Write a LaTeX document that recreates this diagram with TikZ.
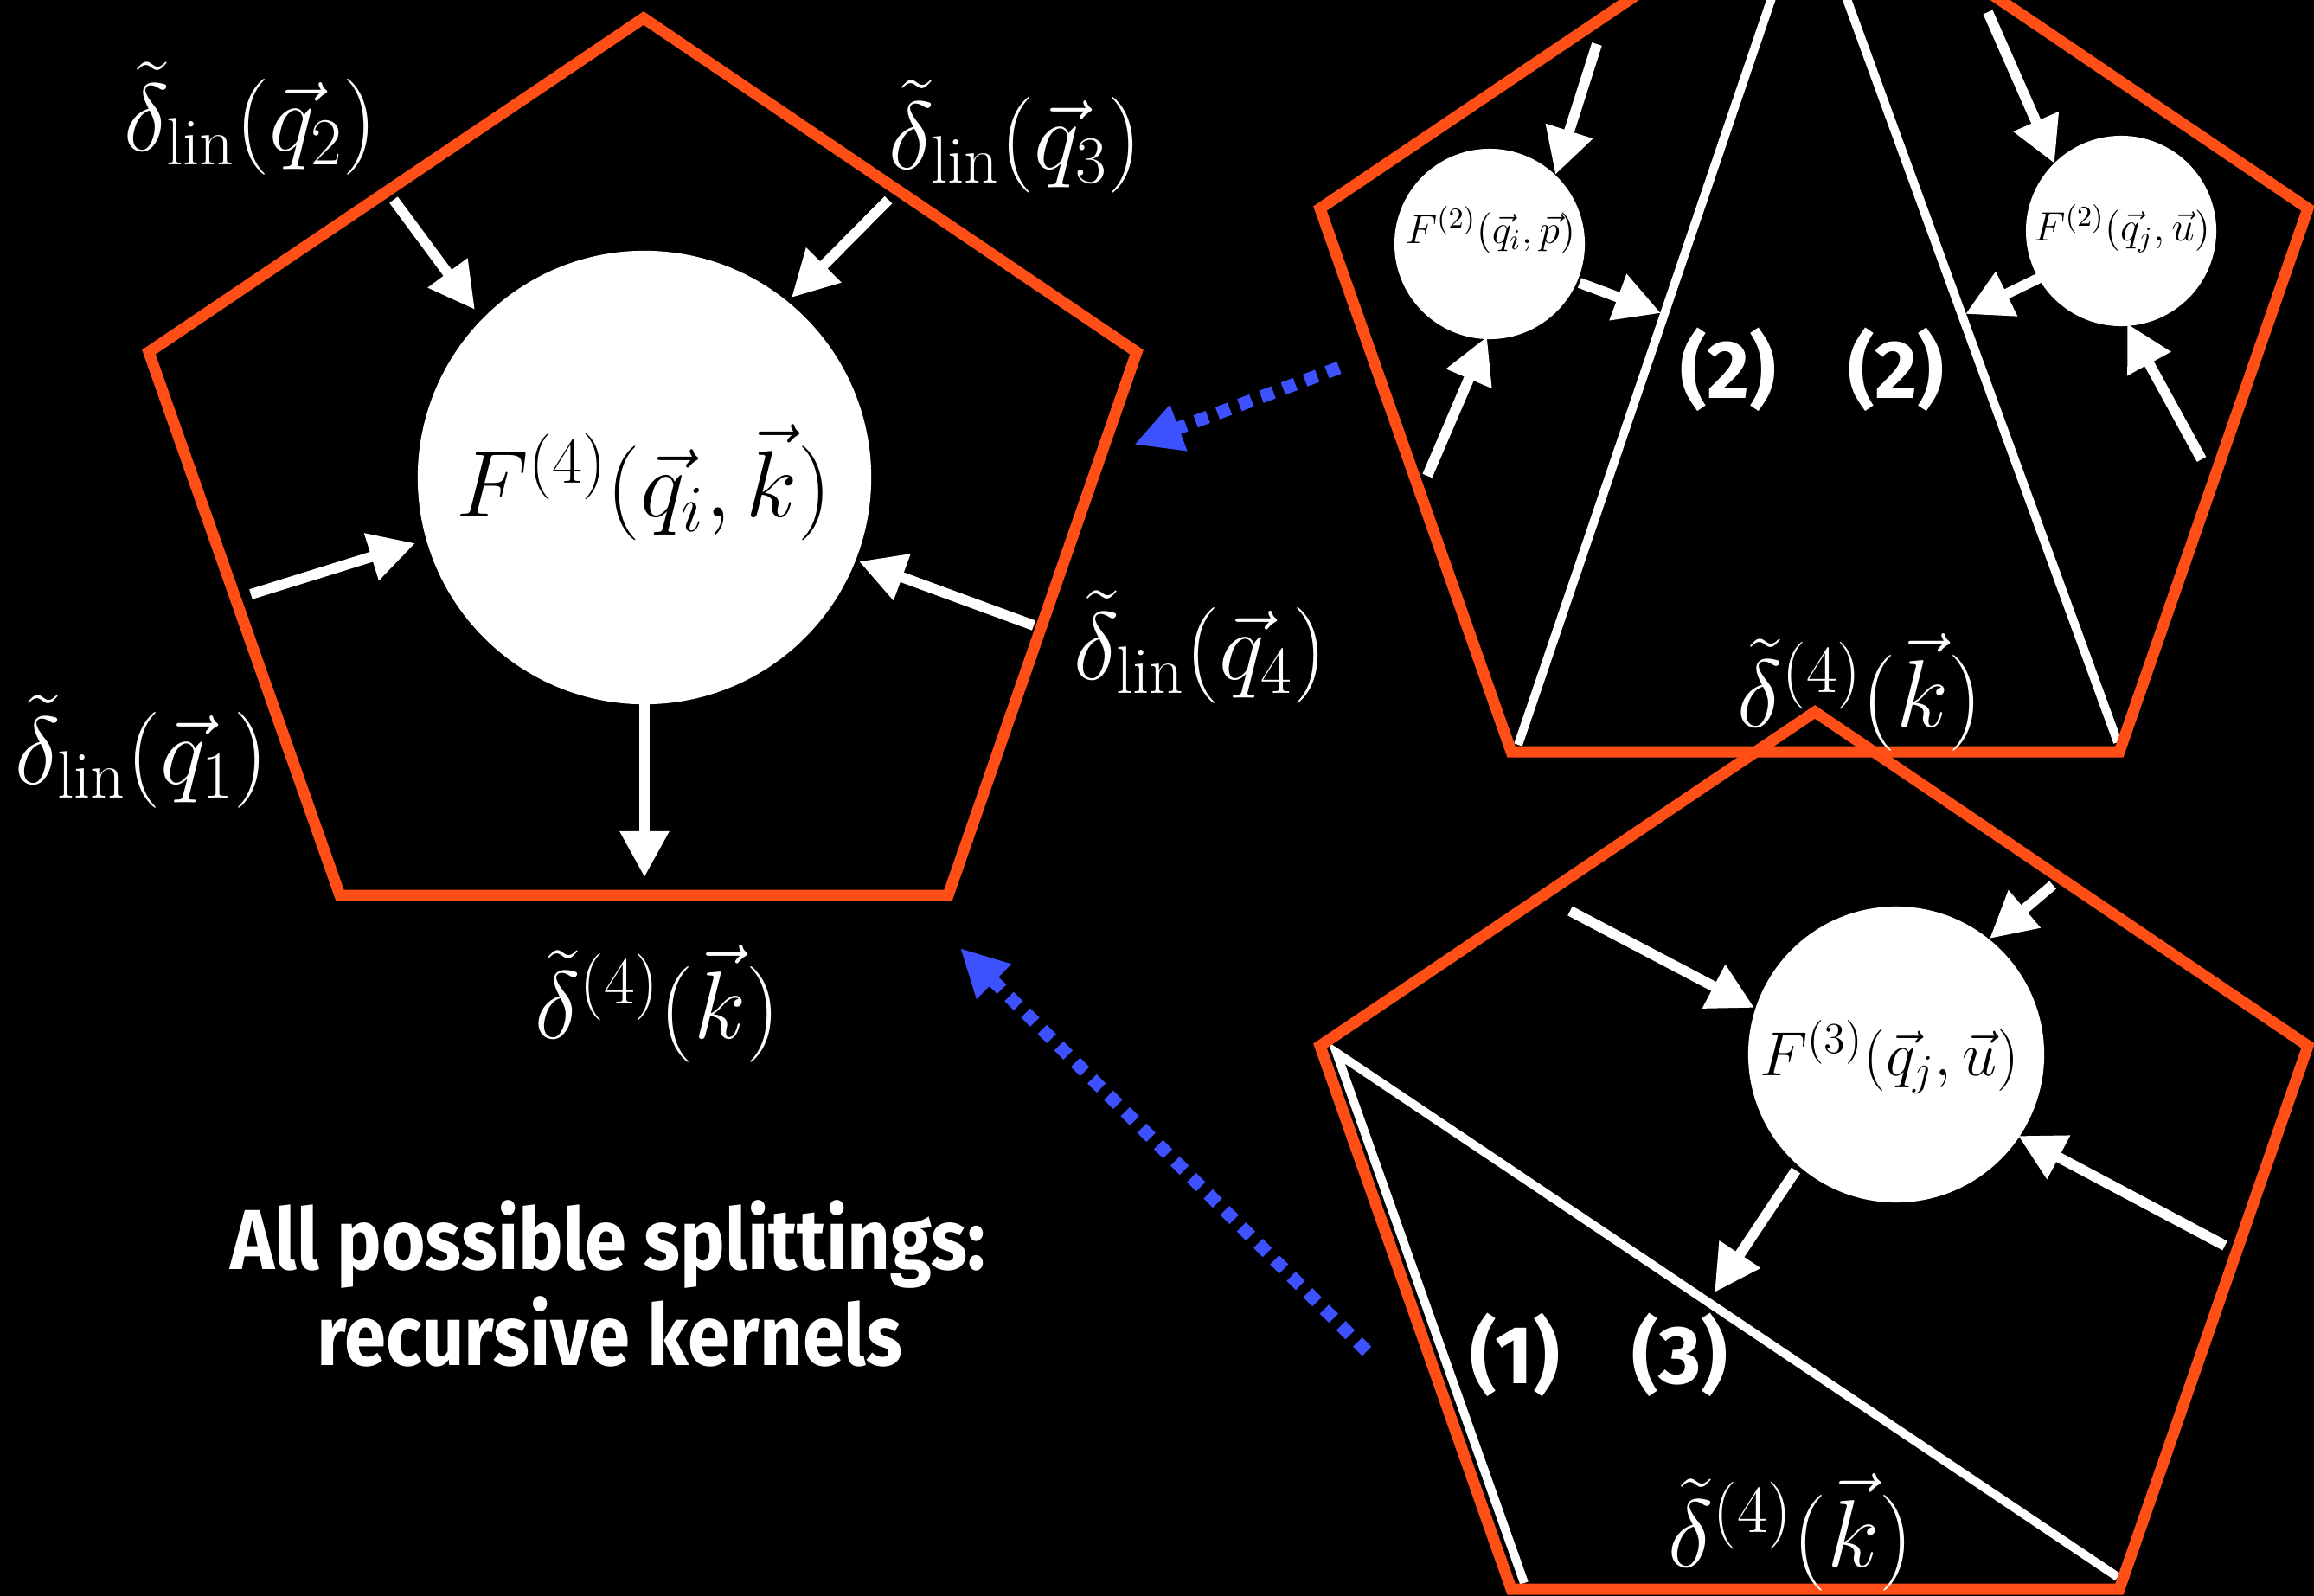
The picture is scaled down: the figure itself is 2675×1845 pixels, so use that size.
\documentclass[tikz,border=0pt]{standalone}
\usepackage{fix-cm}
\usepackage{fontspec}
\newfontfamily\gill{Fira Sans}[FakeStretch=0.88]
\newfontfamily\gilln{Fira Sans}
\usetikzlibrary{arrows.meta}
\definecolor{orng}{RGB}{255,78,22}
\definecolor{blu}{RGB}{61,81,255}
\newcommand\pentagonpath{(744,21) -- (1314,407) -- (1096,1035) -- (393,1035) -- (172,407) -- cycle}
\tikzset{
  pent/.style={draw=orng, line width=0.13cm, line join=miter},
  wline/.style={draw=white, line width=0.10cm},
  warr/.style={draw=white, line width=0.12cm, -{Triangle[length=0.53cm,width=0.54cm]}},
  barr/.style={draw=blu, line width=0.15cm, dash pattern=on 0.15cm off 0.12cm, -{Triangle[length=0.55cm,width=0.53cm]}},
  ball/.style={circle, fill=white, inner sep=0pt},
  lbl/.style={text=white, inner sep=0pt, font=\fontsize{31.5}{36}\selectfont},
  klbl/.style={text=white, inner sep=0pt, font=\fontsize{31.5}{36}\selectfont},
  blk/.style={text=black, inner sep=0pt},
  num/.style={text=white, inner sep=0pt, font=\gilln\bfseries\fontsize{27}{32}\selectfont},
  big/.style={text=white, inner sep=0pt, font=\gill\bfseries\fontsize{28}{32}\selectfont},
}
\begin{document}
\begin{tikzpicture}[x=0.01cm,y=-0.01cm]
\path[use as bounding box, fill=black] (0,0) rectangle (2675,1845);
\clip (0,0) rectangle (2675,1845);

% ---------- main pentagon ----------
\draw[pent] \pentagonpath;
\node[ball, minimum size=5.24cm] (c4) at (745,552) {};
\node[blk, font=\fontsize{31}{36}\selectfont] (t4) at (744,558) {$F^{(4)}(\vec q_i,\vec k)$};

\coordinate (a1s) at (455,231);  \coordinate (a1e) at (549,358);
\coordinate (a2s) at (1027,231); \coordinate (a2e) at (915,344);
\coordinate (a3s) at (290,687);  \coordinate (a3e) at (480,628);
\coordinate (a4s) at (1195,723); \coordinate (a4e) at (993,649);
\coordinate (a5s) at (745,812);  \coordinate (a5e) at (745,1014);
\draw[warr] (a1s) -- (a1e);
\draw[warr] (a2s) -- (a2e);
\draw[warr] (a3s) -- (a3e);
\draw[warr] (a4s) -- (a4e);
\draw[warr] (a5s) -- (a5e);

\node[lbl] (q2) at (290,137) {$\tilde\delta_{\mathrm{lin}}(\vec q_2)$};
\node[lbl] (q3) at (1174,158) {$\tilde\delta_{\mathrm{lin}}(\vec q_3)$};
\node[lbl] (q1) at (164,869) {$\tilde\delta_{\mathrm{lin}}(\vec q_1)$};
\node[lbl] (q4) at (1388,748) {$\tilde\delta_{\mathrm{lin}}(\vec q_4)$};
\node[klbl] (k0) at (760,1160) {$\tilde\delta^{(4)}(\vec k)$};

% ---------- top-right pentagon ----------
\coordinate (w1a) at (1755,861); \coordinate (w1b) at (2054,-20);
\coordinate (w2a) at (2448,858); \coordinate (w2b) at (2128,-20);
\draw[wline] (w1a) -- (w1b);
\draw[wline] (w2a) -- (w2b);
\begin{scope}[shift={(1354,-166)}]
\draw[pent] \pentagonpath;
\end{scope}
\node[ball, minimum size=2.2cm] (cL) at (1722,282) {};
\node[ball, minimum size=2.2cm] (cR) at (2452,267) {};
\node[blk, font=\fontsize{13.5}{16}\selectfont] (tL) at (1723,266) {$F^{(2)}(\vec q_i,\vec p)$};
\node[blk, font=\fontsize{13.5}{16}\selectfont] (tR) at (2453,264) {$F^{(2)}(\vec q_j,\vec u)$};

\coordinate (b1s) at (1846,51);  \coordinate (b1e) at (1798,202);
\coordinate (b2s) at (1826,327); \coordinate (b2e) at (1920,362);
\coordinate (b3s) at (1650,550); \coordinate (b3e) at (1719,389);
\coordinate (b4s) at (2298,14);  \coordinate (b4e) at (2375,189);
\coordinate (b5s) at (2358,321); \coordinate (b5e) at (2272,363);
\coordinate (b6s) at (2545,531); \coordinate (b6e) at (2459,374);
\draw[warr] (b1s) -- (b1e);
\draw[warr] (b2s) -- (b2e);
\draw[warr] (b3s) -- (b3e);
\draw[warr] (b4s) -- (b4e);
\draw[warr] (b5s) -- (b5e);
\draw[warr] (b6s) -- (b6e);

\node[num] (n2a) at (1998,427) {(2)};
\node[num] (n2b) at (2192,427) {(2)};
\node[klbl] (k1) at (2150,800) {$\tilde\delta^{(4)}(\vec k)$};

% ---------- bottom-right pentagon ----------
\coordinate (v1) at (1762,1830); \coordinate (v2) at (1545,1217); \coordinate (v3) at (2448,1823);
\draw[wline, line join=miter] (v1) -- (v2) -- (v3);
\begin{scope}[shift={(1354,802)}]
\draw[pent] \pentagonpath;
\end{scope}
\node[ball, minimum size=3.42cm] (c3) at (2192,1219) {};
\node[blk, font=\fontsize{20.5}{24}\selectfont] (t3) at (2184,1222) {$F^{(3)}(\vec q_j,\vec u)$};

\coordinate (d1s) at (1815,1053); \coordinate (d1e) at (2028,1165);
\coordinate (d2s) at (2373,1023); \coordinate (d2e) at (2300,1085);
\coordinate (d3s) at (2572,1440); \coordinate (d3e) at (2333,1313);
\coordinate (d4s) at (2076,1353); \coordinate (d4e) at (1982,1494);
\draw[warr] (d1s) -- (d1e);
\draw[warr] (d2s) -- (d2e);
\draw[warr] (d3s) -- (d3e);
\draw[warr] (d4s) -- (d4e);

\node[num] (n1) at (1751,1566) {(1)};
\node[num] (n3) at (1942,1566) {(3)};
\node[klbl] (k2) at (2070,1771) {$\tilde\delta^{(4)}(\vec k)$};

% ---------- blue arrows ----------
\coordinate (e1s) at (1548,425); \coordinate (e1e) at (1311,514);
\coordinate (e2s) at (1580,1562); \coordinate (e2e) at (1110,1096);
\draw[barr] (e1s) -- (e1e);
\draw[barr] (e2s) -- (e2e);

% ---------- caption ----------
\node[big, anchor=base] (cap1) at (703,1467) {All possible splittings:};
\node[big, anchor=base] (cap2) at (705,1578) {recursive kernels};
\end{tikzpicture}
\end{document}
